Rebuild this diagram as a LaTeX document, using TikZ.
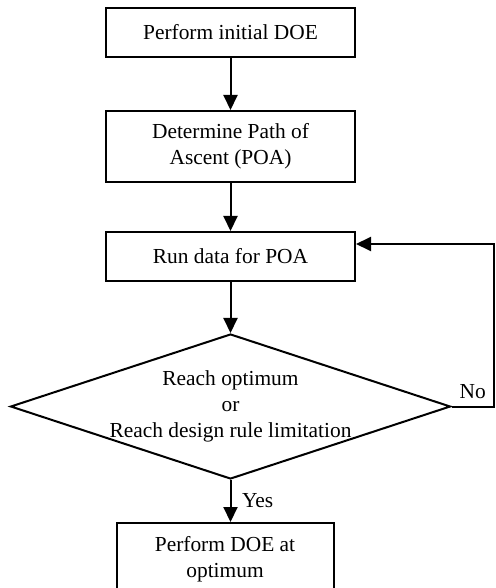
\documentclass[tikz,border=0pt]{standalone}
\usepackage{fontspec}
\setmainfont{Liberation Serif}
\usetikzlibrary{shapes.geometric,arrows.meta,positioning,calc}

\begin{document}
\begin{tikzpicture}[
    font=\fontsize{10.7}{13}\selectfont,
    box/.style={rectangle, draw, line width=1pt, minimum width=124.5pt, align=center, inner sep=0pt},
    decision/.style={diamond, draw, line width=1pt, aspect=3, minimum width=220pt, minimum height=72.5pt, inner sep=-3pt, align=center},
    flow/.style={line width=1pt, -{Triangle[length=7.5pt,width=7pt]}}
]
    \useasboundingbox (0,0) rectangle (247.5pt,-294pt);

    \node[box, minimum height=24.5pt] (initdoe) at (115.25pt,-16.25pt) {Perform initial DOE};
    \node[box, minimum height=35.5pt, below=26pt of initdoe] (poa) {Determine Path of\\Ascent (POA)};
    \node[box, minimum height=24.5pt, below=24pt of poa] (rundata) {Run data for POA};
    \node[decision, below=25.5pt of rundata] (reach) {Reach optimum\\or\\Reach design rule limitation};
    \node[box, minimum width=108.5pt, minimum height=36pt, below=21pt of reach, xshift=-2.75pt] (optdoe) {Perform DOE at\\optimum};

    \coordinate (loop) at (247pt,-122pt);

    \draw[flow] (initdoe) -- (poa);
    \draw[flow] (poa) -- (rundata);
    \draw[flow] (rundata) -- (reach);
    \draw[flow] (reach.south) -- (reach.south |- optdoe.north) node[pos=0.5, right, xshift=2pt] {Yes};
    \draw[flow] (reach.east) -- (reach.east -| loop) node[pos=0.5, above] {No} -- (loop) -- (rundata.east |- loop);
\end{tikzpicture}
\end{document}
